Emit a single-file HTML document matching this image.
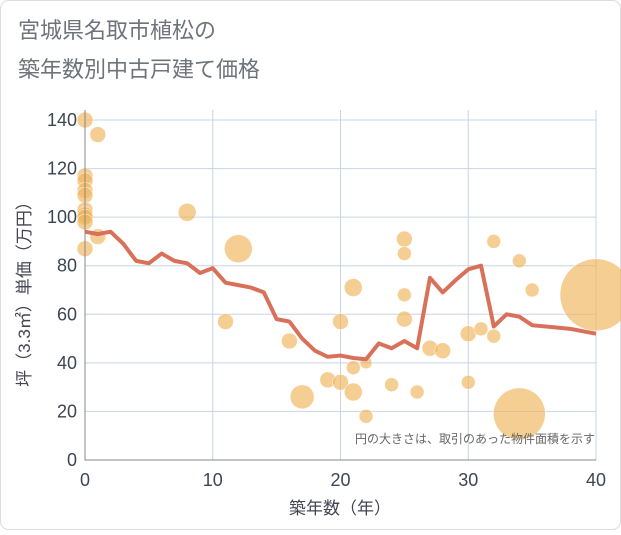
<!DOCTYPE html>
<html><head><meta charset="utf-8"><style>
body{margin:0;background:#fff;}
#wrap{position:relative;width:621px;height:530px;}
</style></head><body>
<div id="wrap">
<svg id="chart" width="621" height="530" xmlns="http://www.w3.org/2000/svg" style="font-family:'Liberation Sans','Noto Sans CJK JP',sans-serif">
<rect x="0.5" y="0.5" width="620" height="529" rx="8" fill="#fff" stroke="#ddd"/>
<text x="18" y="38" font-size="22" fill="#6f737a">宮城県名取市植松の</text>
<text x="18" y="77" font-size="22" fill="#6f737a">築年数別中古戸建て価格</text>
<g id="grid"></g>
<g id="bubbles"></g>
<g id="line"></g>
<g id="axes"></g>
<text x="595" y="443" font-size="12" fill="#666" text-anchor="end">円の大きさは、取引のあった物件面積を示す</text>
<text x="340" y="514" font-size="17" fill="#445" text-anchor="middle">築年数（年）</text>
<text transform="translate(30,290) rotate(-90)" font-size="17" fill="#445" text-anchor="middle">坪（3.3㎡）単価（万円）</text>
</svg>
</div>
<script>
const lineYears=[0,1,2,3,4,5,6,7,8,9,10,11,12,13,14,15,16,17,18,19,20,21,22,23,24,25,26,27,28,29,30,31,32,33,34,35,36,37,38,39,40];
const lineValues=[94,93,94,89,82,81,85,82,81,77,79,73,72,71,69,58,57,50,45,42.5,43,42,41.5,48,46,49,46,75,69,74,78.5,80,55,60,59,55.5,55,54.5,54,53,52];
const bubbleX=[0,1,0,0,0,0,0,0,0,0,0,1,8,12,11,16,17,19,20,20,21,21,21,22,22,24,25,25,25,25,26,27,28,30,30,31,32,32,34,35,34,40];
const bubbleY=[140,134,117,115,111,109,103,101,100,98,87,92,102,87,57,49,26,33,57,32,71,28,38,40,18,31,91,85,68,58,28,46,45,52,32,54,51,90,82,70,19,68];
const bubbleArea=[64,64,64,64,64,64,64,64,64,64,64,64,81,196,64,64,144,64,64,64,81,81,49,36,49,49,64,49,49,64,49,64,64,64,49,49,49,49,49,49,676,1296];
const xTicks=[0,10,20,30,40];
const yTicks=[0,20,40,60,80,100,120,140];
const X0=85,X1=596,Y0=460,Y1=120,XMAX=40,YMAX=140;
const sx=v=>X0+(X1-X0)*v/XMAX, sy=v=>Y0-(Y0-Y1)*v/YMAX;
const NS='http://www.w3.org/2000/svg';
function mk(tag,parent){const e=document.createElementNS(NS,tag);document.getElementById(parent).appendChild(e);return e;}
yTicks.forEach(t=>{
 const l=mk('line','grid');l.setAttribute('x1',X0);l.setAttribute('x2',X1);l.setAttribute('y1',sy(t));l.setAttribute('y2',sy(t));l.setAttribute('stroke','#c8d4e3');
 
 
 const tx=mk('text','axes');tx.setAttribute('x',X0-8);tx.setAttribute('y',sy(t)+6);tx.setAttribute('text-anchor','end');tx.setAttribute('font-size','18');tx.setAttribute('fill','#3d4552');tx.textContent=t;
 
 
});
xTicks.forEach(t=>{
 const l=mk('line','grid');l.setAttribute('y1',Y1-10);l.setAttribute('y2',Y0);l.setAttribute('x1',sx(t));l.setAttribute('x2',sx(t));l.setAttribute('stroke','#c8d4e3');
 
 
 const tx=mk('text','axes');tx.setAttribute('x',sx(t));tx.setAttribute('y',Y0+26);tx.setAttribute('text-anchor','middle');tx.setAttribute('font-size','18');tx.setAttribute('fill','#3d4552');tx.textContent=t;
 
 
});
const ax=mk('path','axes');ax.setAttribute('d',`M${X0},${Y1-10}V${Y0}H${X1}`);ax.setAttribute('stroke','#888');ax.setAttribute('fill','none');


bubbleX.forEach((x,i)=>{
 const c=mk('circle','bubbles');c.setAttribute('cx',sx(x));c.setAttribute('cy',sy(bubbleY[i]));c.setAttribute('r',Math.sqrt(bubbleArea[i]));
 c.setAttribute('fill','rgba(240,180,90,0.65)');c.setAttribute('stroke','#fff');c.setAttribute('stroke-width','0.5');
 
 
});
const p=mk('polyline','line');
p.setAttribute('points',lineYears.map((x,i)=>sx(x)+','+sy(lineValues[i])).join(' '));
p.setAttribute('fill','none');p.setAttribute('stroke','#d9705a');p.setAttribute('stroke-width','4');p.setAttribute('stroke-linejoin','round');


</script>
</body></html>
